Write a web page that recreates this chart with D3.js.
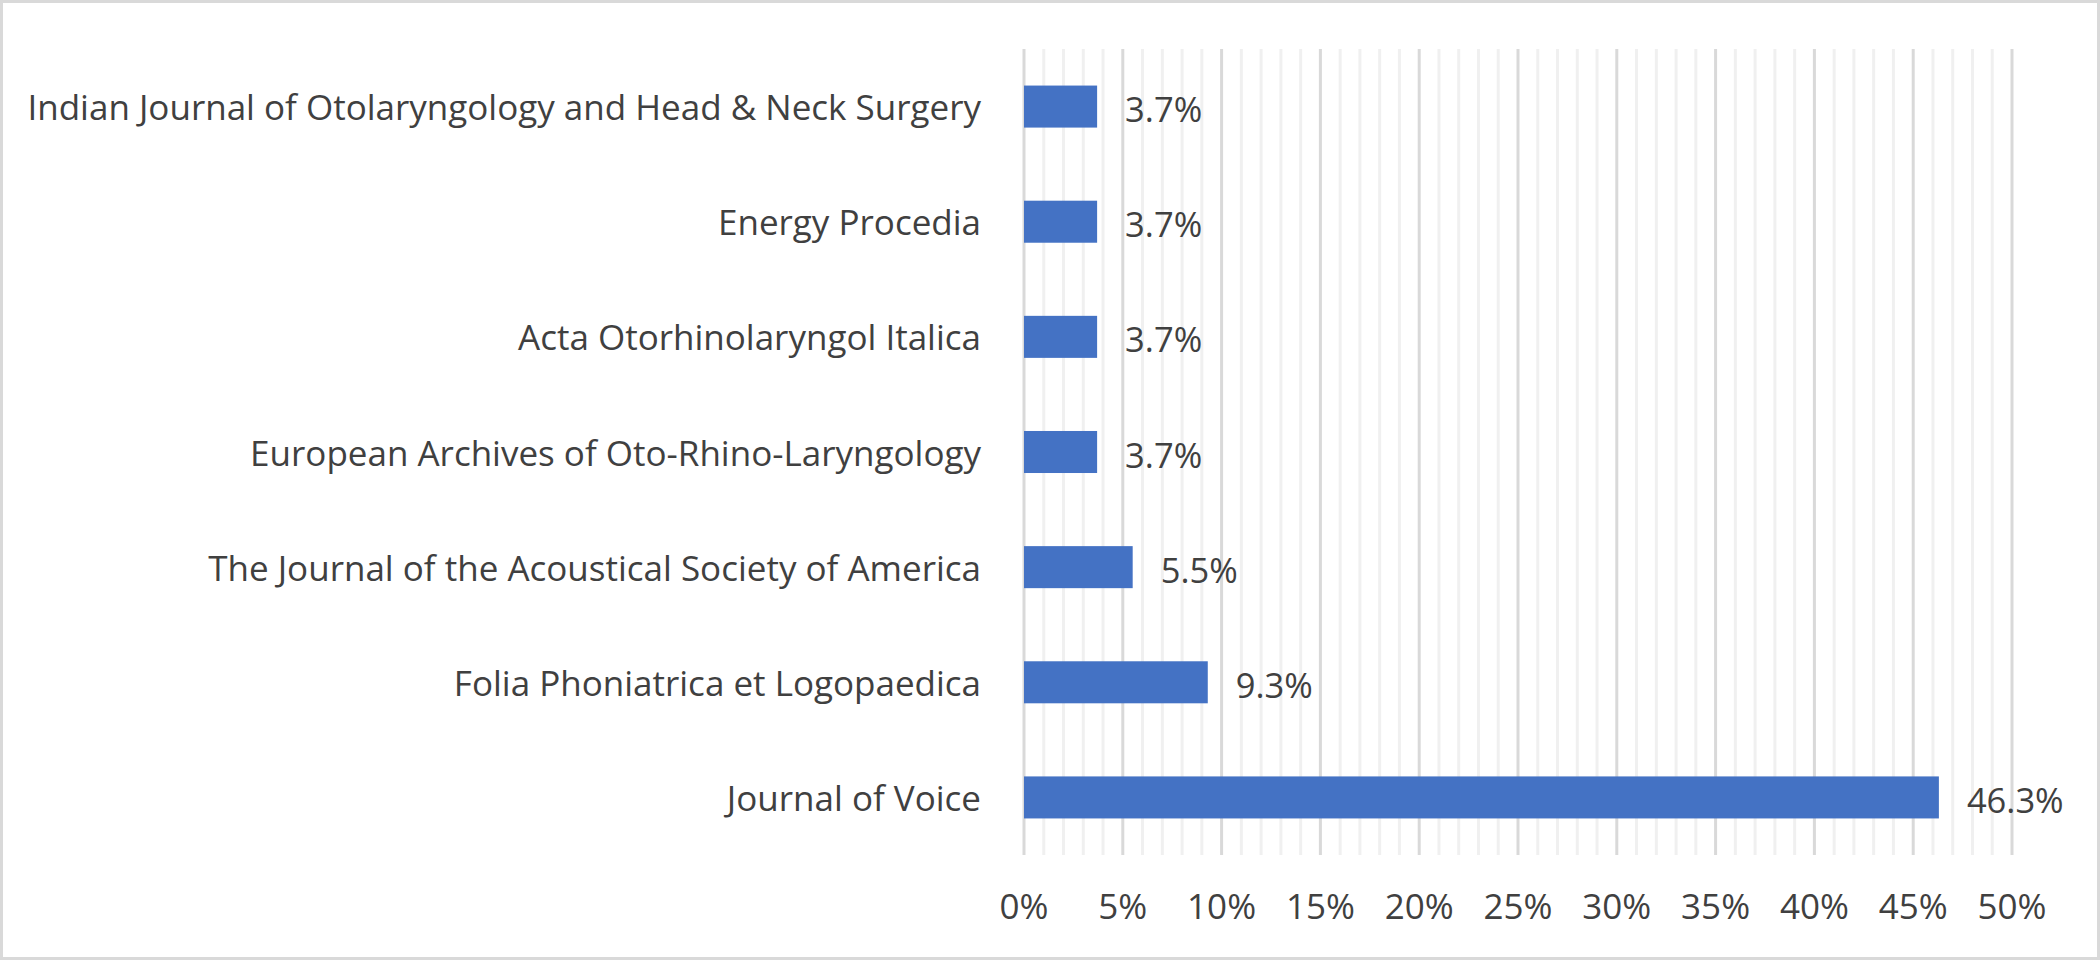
<!DOCTYPE html>
<html>
<head>
<meta charset="utf-8">
<script src="https://cdn.jsdelivr.net/npm/d3@7/dist/d3.min.js"></script>
<style>
  html, body { margin: 0; padding: 0; background: #fff; }
  svg { display: block; }
  text { font-family: "Open Sans", "Noto Sans", sans-serif; fill: #404040; }
</style>
</head>
<body>
<svg id="chart" width="2100" height="960"></svg>
<script>
// journals, top to bottom as drawn
const journals = [
  'Indian Journal of Otolaryngology and Head & Neck Surgery',
  'Energy Procedia',
  'Acta Otorhinolaryngol Italica',
  'European Archives of Oto-Rhino-Laryngology',
  'The Journal of the Acoustical Society of America',
  'Folia Phoniatrica et Logopaedica',
  'Journal of Voice'
];
// share of articles, percent
const shares = [3.7, 3.7, 3.7, 3.7, 5.5, 9.3, 46.3];
const xTicks = [0, 5, 10, 15, 20, 25, 30, 35, 40, 45, 50];

const W = 2100, H = 960;
const plot = { left: 1024, right: 2012, top: 49, bottom: 855 };

const svg = d3.select('#chart');

// outer frame
svg.append('rect')
  .attr('x', 1.5).attr('y', 1.5)
  .attr('width', W - 3).attr('height', H - 3)
  .attr('fill', '#fff')
  .attr('stroke', '#d9d9d9')
  .attr('stroke-width', 3);

const x = d3.scaleLinear().domain([0, 50]).range([plot.left, plot.right]);
const y = d3.scaleBand()
  .domain(journals)
  .range([plot.top, plot.bottom])
  .paddingInner(0.635)
  .paddingOuter(0.3175);

// gridlines: minor every 1%, major every 5%
const minor = d3.range(0, 51).filter(v => v % 5 !== 0);
svg.append('g').selectAll('line')
  .data(minor)
  .join('line')
  .attr('x1', d => x(d)).attr('x2', d => x(d))
  .attr('y1', plot.top).attr('y2', plot.bottom)
  .attr('stroke', '#f0f0f0')
  .attr('stroke-width', 3);

svg.append('g').selectAll('line')
  .data(xTicks)
  .join('line')
  .attr('x1', d => x(d)).attr('x2', d => x(d))
  .attr('y1', plot.top).attr('y2', plot.bottom)
  .attr('stroke', '#d9d9d9')
  .attr('stroke-width', 3);

// bars
svg.append('g').selectAll('rect')
  .data(journals)
  .join('rect')
  .attr('x', x(0))
  .attr('y', d => y(d))
  .attr('width', (d, i) => x(shares[i]) - x(0))
  .attr('height', y.bandwidth())
  .attr('fill', '#4472c4');

// category labels
svg.append('g').selectAll('text')
  .data(journals)
  .join('text')
  .attr('x', 981)
  .attr('y', d => y(d) + y.bandwidth() / 2)
  .attr('text-anchor', 'end')
  .attr('dominant-baseline', 'central')
  .style('font-size', '35px')
  .text(d => d);

// value labels
svg.append('g').selectAll('text')
  .data(journals)
  .join('text')
  .attr('x', (d, i) => x(shares[i]) + 28)
  .attr('y', d => y(d) + y.bandwidth() / 2 + 2)
  .attr('dominant-baseline', 'central')
  .style('font-size', '34.5px')
  .text((d, i) => d3.format('.1f')(shares[i]) + '%');

// x axis tick labels
svg.append('g').selectAll('text')
  .data(xTicks)
  .join('text')
  .attr('x', d => x(d))
  .attr('y', 905)
  .attr('text-anchor', 'middle')
  .attr('dominant-baseline', 'central')
  .style('font-size', '35px')
  .text(d => d + '%');
</script>
</body>
</html>
